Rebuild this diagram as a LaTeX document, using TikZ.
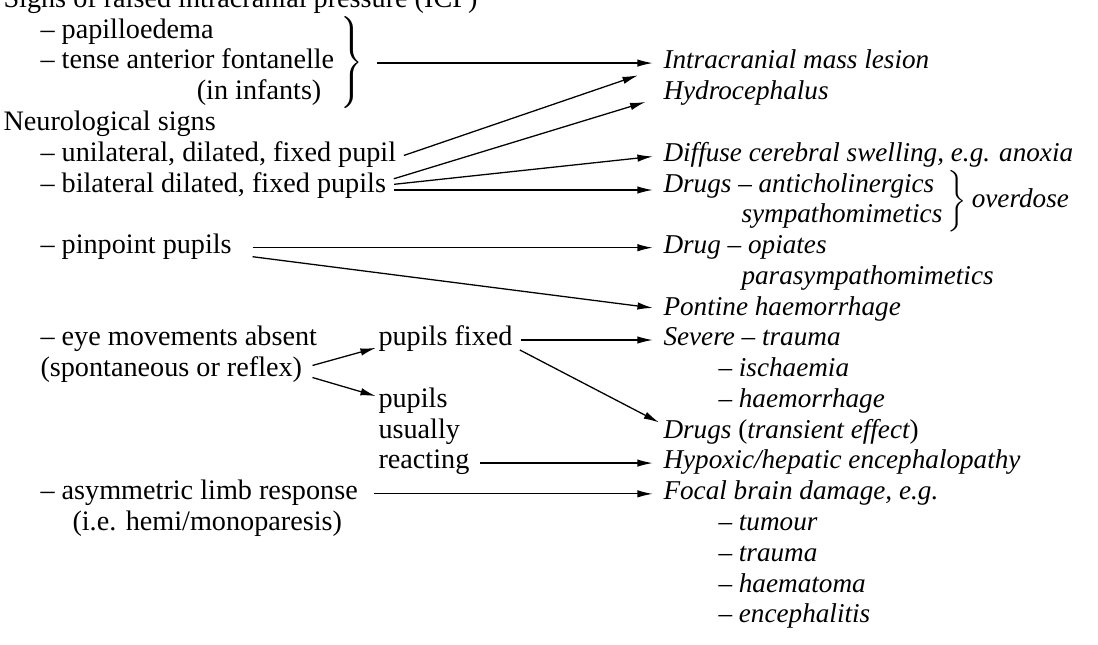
\documentclass[tikz,border=0pt]{standalone}
\usepackage{fontspec}
\setmainfont{Liberation Serif}
\usepackage{tikz}
\usetikzlibrary{arrows.meta, positioning, calc}

\begin{document}
\begin{tikzpicture}[
    x=0.39pt, y=-12pt,
    font=\fontsize{11}{12}\selectfont,
    sign/.style={inner sep=0pt, anchor=mid west},
    cause/.style={inner sep=0pt, anchor=mid west, font=\fontsize{10.6}{12}\selectfont\itshape},
    brc/.style={inner sep=0pt, anchor=west},
    arr/.style={-{Latex[length=6pt, width=2.9pt]}, line width=0.5pt, shorten <=4pt, shorten >=4pt},
]
\useasboundingbox (0,-0.05) rectangle (1098,20.91);

% Left column: signs
\node[sign] (icp) at (3,0) {Signs of raised intracranial pressure (ICP)};
\node[sign] (papill) at (40,1) {-- papilloedema};
\node[sign] (tense) at (40,2) {-- tense anterior fontanelle};
\node[sign, anchor=mid east] (infants) at ($(tense.mid east)+(-5pt,-12pt)$) {(in infants)};
\node[brc] (icpbrace) at ($(tense.mid east)+(1pt,0)$)
    {$\left.\vrule height 21.5pt depth 16.5pt width 0pt\right\}$};

\node[sign] (neuro) at (3,4) {Neurological signs};
\node[sign] (unilat) at (40,5) {-- unilateral, dilated, fixed pupil};
\node[sign] (bilat) at (40,6) {-- bilateral dilated, fixed pupils};
\node[sign] (pinpoint) at (40,8) {-- pinpoint pupils};
\node[sign] (eyemove) at (40,11) {-- eye movements absent};
\node[sign] (spont) at (40,12) {(spontaneous or reflex)};
\node[sign] (asym) at (40,16) {-- asymmetric limb response};
\node[sign] (hemi) at (72,17) {(i.e. hemi/monoparesis)};

% Middle column: pupil state
\node[sign] (pfixed) at (378,11) {pupils fixed};
\node[sign] (pupils) at (378,13) {pupils};
\node[sign] (usually) at (378,14) {usually};
\node[sign] (reacting) at (378,15) {reacting};

% Right column: causes
\node[cause] (intracr) at (663,2) {Intracranial mass lesion};
\node[cause] (hydro) at (663,3) {Hydrocephalus};
\node[cause] (diffuse) at (663,5) {Diffuse cerebral swelling, e.g. anoxia};
\node[cause] (drugs) at (663,6) {Drugs -- anticholinergics};
\node[cause] (sympath) at (741,7) {sympathomimetics};
\node[brc] (odbrace) at ($(sympath.mid east)+(0.5pt,6pt)$)
    {$\left.\vrule height 13.8pt depth 8.8pt width 0pt\right\}$};
\node[cause] (overdose) at ($(odbrace.east)+(1.5pt,0)$) {overdose};
\node[cause] (opiates) at (663,8) {Drug -- opiates};
\node[cause] (parasym) at (741,9) {parasympathomimetics};
\node[cause] (pontine) at (663,10) {Pontine haemorrhage};
\node[cause] (severe) at (663,11) {Severe -- trauma};
\node[cause] (ischaem) at (718,12) {-- ischaemia};
\node[cause] (haemorr) at (718,13) {-- haemorrhage};
\node[cause] (transient) at (663,14) {Drugs {\upshape(}transient effect{\upshape)}};
\node[cause] (hypoxic) at (663,15) {Hypoxic/hepatic encephalopathy};
\node[cause] (focal) at (663,16) {Focal brain damage, e.g.};
\node[cause] (tumour) at (718,17) {-- tumour};
\node[cause] (trauma) at (718,18) {-- trauma};
\node[cause] (haematoma) at (718,19) {-- haematoma};
\node[cause] (enceph) at (718,20) {-- encephalitis};

% Arrows
\draw[arr, shorten <=5pt] (icpbrace.east) -- (icpbrace.east -| intracr.west);
\draw[arr, shorten <=3pt] ($(unilat.mid east)+(0,-1pt)$) -- ($(intracr.mid west)+(-6pt,-3.5pt)$);
\draw[arr, shorten <=3pt] ($(bilat.mid east)+(0,2pt)$) -- ($(hydro.mid west)+(-3pt,-2pt)$);
\draw[arr, shorten <=3pt] ($(bilat.mid east)+(0,0.4pt)$) -- (diffuse.mid west);
\draw[arr, shorten <=3pt] ($(bilat.mid east)+(0,-1.5pt)$) -- ($(drugs.mid west)+(0,-1.5pt)$);
\draw[arr, shorten <=8pt] (pinpoint.mid east) -- (opiates.mid west);
\draw[arr, shorten <=8pt] ($(pinpoint.mid east)+(0,-2.5pt)$) -- (pontine.mid west);
\draw[arr] ($(spont.mid east)+(0,1pt)$) -- ($(pfixed.mid west)+(3pt,-2pt)$);
\draw[arr] ($(spont.mid east)+(0,-1.5pt)$) -- ($(pupils.mid west)+(3pt,1pt)$);
\draw[arr, shorten <=3pt] (pfixed.mid east) -- (severe.mid west);
\draw[arr, shorten <=3pt] ($(pfixed.mid east)+(0,-2.5pt)$) -- ($(transient.mid west)+(2pt,2pt)$);
\draw[arr] (reacting.mid east) -- (hypoxic.mid west);
\draw[arr, shorten <=6pt] (asym.mid east) -- (focal.mid west);

\end{tikzpicture}
\end{document}
